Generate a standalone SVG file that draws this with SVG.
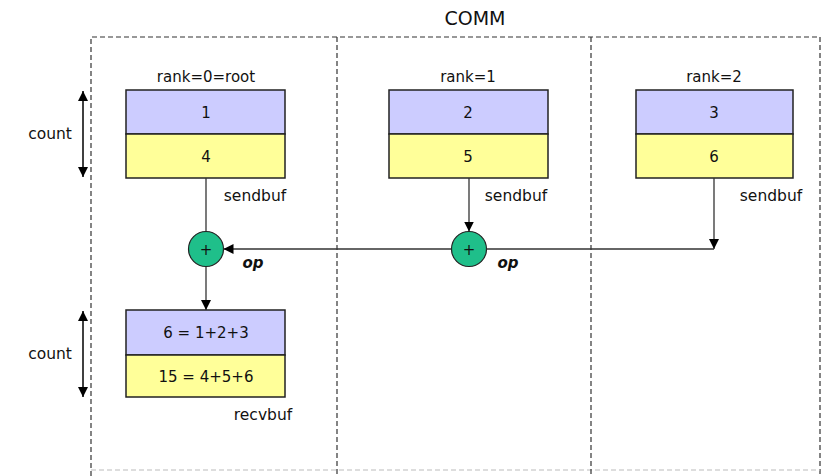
<svg xmlns="http://www.w3.org/2000/svg" width="828" height="476" viewBox="0 0 828 476">
<defs>
<marker id="ah" viewBox="0 0 10 10" refX="10" refY="5" markerWidth="10" markerHeight="10" markerUnits="userSpaceOnUse" orient="auto-start-reverse"><path d="M0,0 L10,5 L0,10 z" fill="#000"/></marker>
</defs>
<style>
text{font-family:"DejaVu Sans","Liberation Sans",sans-serif;font-size:15px;fill:#111;text-anchor:middle}
.lbl{font-size:15.5px}
.it{font-style:italic;font-weight:bold;font-size:15px}
.dash{fill:none;stroke:#333;stroke-width:1.2;stroke-dasharray:5,3}
.top{fill:#ccccff;stroke:#222;stroke-width:1.5}
.bot{fill:#ffff99;stroke:#222;stroke-width:1.5}
.op{fill:#1fbf8a;stroke:#222;stroke-width:1.2}
.ln{stroke:#333;stroke-width:1.3;fill:none}
</style>
<rect width="828" height="476" fill="#fff"/>
<text x="475" y="25" style="font-size:19px">COMM</text>
<g id="comm">
<path class="dash" d="M91,476 V37 H820 V476"/>
<path class="dash" d="M91,470 H820" style="stroke:#bbb"/>
<line class="dash" x1="337" y1="37" x2="337" y2="476"/>
<line class="dash" x1="591" y1="37" x2="591" y2="476"/>
</g>
<g id="rank0">
<text x="206" y="82">rank=0=root</text>
<rect class="top" x="126" y="90" width="159" height="44"/>
<rect class="bot" x="126" y="134" width="159" height="44"/>
<text x="206" y="118">1</text>
<text x="206" y="162">4</text>
<text class="lbl" x="255" y="201">sendbuf</text>
</g>
<g id="rank1">
<text x="468" y="82">rank=1</text>
<rect class="top" x="389" y="90" width="159" height="44"/>
<rect class="bot" x="389" y="134" width="159" height="44"/>
<text x="468" y="118">2</text>
<text x="468" y="162">5</text>
<text class="lbl" x="516" y="201">sendbuf</text>
</g>
<g id="rank2">
<text x="714" y="82">rank=2</text>
<rect class="top" x="636" y="90" width="157" height="44"/>
<rect class="bot" x="636" y="134" width="157" height="44"/>
<text x="714" y="118">3</text>
<text x="714" y="162">6</text>
<text class="lbl" x="771" y="201">sendbuf</text>
</g>
<g id="op1">
<circle class="op" cx="206" cy="249" r="17.5"/>
<text x="206" y="255">+</text>
<text class="it" x="253" y="268">op</text>
</g>
<g id="op2">
<circle class="op" cx="469" cy="249" r="17.5"/>
<text x="469" y="255">+</text>
<text class="it" x="508" y="268">op</text>
</g>
<g id="recvbuf">
<rect class="top" x="126" y="310" width="159" height="45"/>
<rect class="bot" x="126" y="355" width="159" height="42"/>
<text x="206" y="338">6 = 1+2+3</text>
<text x="206" y="382">15 = 4+5+6</text>
<text class="lbl" x="263" y="420">recvbuf</text>
</g>
<g id="count1">
<text class="lbl" x="50" y="139">count</text>
</g>
<g id="count2">
<text class="lbl" x="50" y="359">count</text>
</g>
<g id="connectors">
<line class="ln" x1="206" y1="178" x2="206" y2="231.5"/>
<line class="ln" x1="469" y1="178" x2="469" y2="231.5" marker-end="url(#ah)"/>
<line class="ln" x1="714" y1="178" x2="714" y2="249" marker-end="url(#ah)"/>
<line class="ln" x1="714" y1="249" x2="486.5" y2="249"/>
<line class="ln" x1="451.5" y1="249" x2="223.5" y2="249" marker-end="url(#ah)"/>
<line class="ln" x1="206" y1="266.5" x2="206" y2="310" marker-end="url(#ah)"/>
<line class="ln" x1="83" y1="91" x2="83" y2="177" marker-start="url(#ah)" marker-end="url(#ah)" style="stroke:#000;stroke-width:1.5"/>
<line class="ln" x1="83" y1="311" x2="83" y2="397" marker-start="url(#ah)" marker-end="url(#ah)" style="stroke:#000;stroke-width:1.5"/>
</g>
</svg>
